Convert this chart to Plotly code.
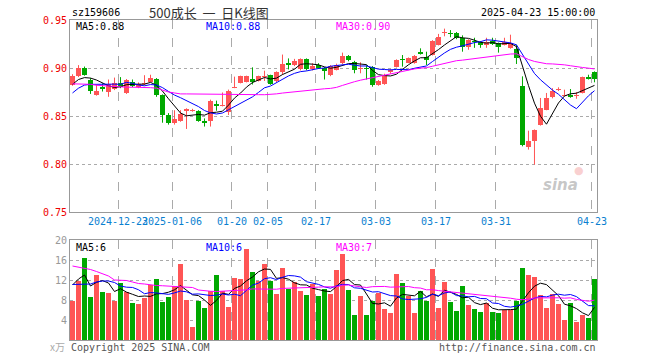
import plotly.graph_objects as go

# ---------------- data ----------------
dates = ["2024-12-11","2024-12-12","2024-12-13","2024-12-16","2024-12-17","2024-12-18","2024-12-19","2024-12-20",
         "2024-12-23","2024-12-24","2024-12-25","2024-12-26","2024-12-27","2024-12-30","2024-12-31",
         "2025-01-02","2025-01-03","2025-01-06","2025-01-07","2025-01-08","2025-01-09","2025-01-10","2025-01-13",
         "2025-01-14","2025-01-15","2025-01-16","2025-01-17","2025-01-20","2025-01-21","2025-01-22","2025-01-23",
         "2025-01-24","2025-01-27","2025-02-05","2025-02-06","2025-02-07","2025-02-10","2025-02-11","2025-02-12",
         "2025-02-13","2025-02-14","2025-02-17","2025-02-18","2025-02-19","2025-02-20","2025-02-21","2025-02-24",
         "2025-02-25","2025-02-26","2025-02-27","2025-02-28","2025-03-03","2025-03-04","2025-03-05","2025-03-06",
         "2025-03-07","2025-03-10","2025-03-11","2025-03-12","2025-03-13","2025-03-14","2025-03-17","2025-03-18",
         "2025-03-19","2025-03-20","2025-03-21","2025-03-24","2025-03-25","2025-03-26","2025-03-27","2025-03-28",
         "2025-03-31","2025-04-01","2025-04-02","2025-04-03","2025-04-07","2025-04-08","2025-04-09","2025-04-10",
         "2025-04-11","2025-04-14","2025-04-15","2025-04-16","2025-04-17","2025-04-18","2025-04-21","2025-04-22",
         "2025-04-23"]

opens = [0.8826,0.8917,0.9005,0.8880,0.8722,0.8805,0.8755,0.8780,0.8845,0.8740,
         0.8858,0.8800,0.8830,0.8858,0.8885,0.8720,0.8515,0.8430,0.8450,0.8550,
         0.8550,0.8555,0.8440,0.8445,0.8628,0.8605,0.8540,0.8792,0.8845,0.8855,
         0.8890,0.8868,0.8905,0.8924,0.8860,0.8955,0.9052,0.9030,0.8985,0.9090,
         0.8985,0.9035,0.9005,0.8925,0.8983,0.9050,0.9125,0.9066,0.8990,0.9000,
         0.9014,0.8823,0.8833,0.8960,0.9014,0.9090,0.9056,0.9049,0.9170,0.9118,
         0.9135,0.9240,0.9360,0.9365,0.9368,0.9309,0.9222,0.9280,0.9274,0.9240,
         0.9282,0.9257,0.9240,0.9205,0.9201,0.8809,0.8174,0.8243,0.8410,0.8566,
         0.8694,0.8767,0.8712,0.8722,0.8712,0.8740,0.8903,0.8955]
highs = [0.8935,0.9030,0.9015,0.8895,0.8830,0.8840,0.8880,0.8900,0.8905,0.8885,
         0.8880,0.8850,0.8925,0.8930,0.8895,0.8725,0.8530,0.8560,0.8560,0.8580,
         0.8575,0.8560,0.8475,0.8670,0.8660,0.8745,0.8775,0.8910,0.8920,0.8920,
         0.9007,0.8920,0.8972,0.8930,0.8965,0.9140,0.9100,0.9095,0.9100,0.9100,
         0.9050,0.9050,0.9010,0.9030,0.9045,0.9160,0.9135,0.9075,0.9060,0.9030,
         0.9020,0.8875,0.8940,0.8990,0.9090,0.9135,0.9110,0.9135,0.9205,0.9170,
         0.9290,0.9355,0.9410,0.9395,0.9375,0.9340,0.9300,0.9315,0.9280,0.9315,
         0.9315,0.9265,0.9315,0.9347,0.9243,0.8913,0.8347,0.8360,0.8688,0.8740,
         0.8790,0.8799,0.8774,0.8781,0.8750,0.8910,0.8930,0.8965]
lows = [0.8815,0.8905,0.8920,0.8730,0.8712,0.8755,0.8700,0.8770,0.8790,0.8730,
        0.8800,0.8790,0.8820,0.8850,0.8700,0.8430,0.8410,0.8410,0.8440,0.8365,
        0.8545,0.8440,0.8390,0.8390,0.8555,0.8600,0.8510,0.8790,0.8840,0.8850,
        0.8828,0.8860,0.8865,0.8825,0.8850,0.8930,0.8985,0.9020,0.8975,0.8975,
        0.8975,0.8990,0.8880,0.8915,0.8975,0.9040,0.9070,0.8945,0.8945,0.8880,
        0.8805,0.8815,0.8825,0.8940,0.9005,0.9014,0.9050,0.9045,0.9140,0.9030,
        0.9130,0.9235,0.9330,0.9320,0.9300,0.9170,0.9190,0.9210,0.9210,0.9210,
        0.9240,0.9160,0.9235,0.9200,0.9042,0.8184,0.8150,0.7993,0.8400,0.8560,
        0.8684,0.8760,0.8705,0.8690,0.8680,0.8735,0.8880,0.8851]
closes = [0.8917,0.9000,0.8930,0.8765,0.8762,0.8785,0.8830,0.8845,0.8800,0.8870,
          0.8815,0.8830,0.8842,0.8895,0.8720,0.8510,0.8430,0.8470,0.8525,0.8575,
          0.8562,0.8450,0.8432,0.8653,0.8600,0.8615,0.8765,0.8800,0.8912,0.8912,
          0.8855,0.8912,0.8915,0.8835,0.8955,0.9042,0.9035,0.9070,0.9090,0.8985,
          0.9020,0.9000,0.8965,0.9017,0.9035,0.9125,0.9085,0.8975,0.9000,0.8990,
          0.8823,0.8865,0.8927,0.8980,0.9083,0.9080,0.9100,0.9125,0.9146,0.9083,
          0.9285,0.9320,0.9365,0.9355,0.9309,0.9222,0.9292,0.9270,0.9240,0.9274,
          0.9250,0.9222,0.9274,0.9264,0.9104,0.8201,0.8243,0.8358,0.8583,0.8688,
          0.8764,0.8785,0.8722,0.8698,0.8718,0.8903,0.8885,0.8889]
volumes = [7.9,11.8,16.4,8.6,13.0,9.6,9.4,7.9,11.4,9.6,
           7.4,7.2,8.4,11.0,12.2,7.6,8.6,10.8,15.2,8.0,
           2.6,7.8,6.4,9.8,13.0,9.8,6.6,12.4,12.2,18.2,
           13.6,11.8,15.2,11.8,9.2,14.4,10.2,11.6,9.8,9.0,
           11.2,8.8,10.2,9.2,14.0,17.2,10.0,5.0,8.8,5.0,
           7.8,9.4,6.2,5.4,13.2,11.4,8.8,5.4,9.8,7.8,
           14.2,6.4,11.6,7.6,5.8,10.8,7.0,6.2,5.6,7.4,
           5.6,5.4,6.0,6.0,7.8,14.4,13.0,12.6,9.0,6.4,
           9.2,7.2,4.0,7.4,3.6,5.0,4.4,12.2]

# moving-average values before enough history is visible
price_ma5_head = [0.8830,0.8880,0.8900,0.8895]
price_ma10_head = [0.8740,0.8790,0.8822,0.8830,0.8830,0.8832,0.8832,0.8832,0.8830]
price_ma30_head = [0.8835,0.8835,0.8835,0.8830,0.8820,0.8815,0.8810,0.8810,0.8805,0.8800,
                   0.8800,0.8800,0.8800,0.8795,0.8790,0.8770,0.8750,0.8740,0.8730,0.8730,
                   0.8730,0.8730,0.8730,0.8730,0.8725,0.8725,0.8725,0.8725,0.8725]
vol_ma5_head = [11.0,12.2,13.0,10.8]
vol_ma10_head = [11.1,11.1,11.1,11.2,11.6,11.8,11.8,11.5,10.8]
vol_ma30_head = [14.8,14.6,14.4,14.1,13.7,13.3,12.8,12.0,11.95,11.9,
                 11.6,11.3,11.2,11.0,10.9,10.85,10.8,10.7,10.7,10.6,
                 10.5,10.0,9.8,9.75,9.7,9.75,9.8,9.9,9.95]

tick_dates = ["2024-12-23","2025-01-06","2025-01-20","2025-02-05","2025-02-17",
              "2025-03-03","2025-03-17","2025-03-31","2025-04-23"]
tick_text = ["2024-12-23","2025-01-06","01-20","02-05","02-17","03-03","03-17","03-31","04-23"]
price_ticks = [0.75,0.80,0.85,0.90,0.95]
vol_ticks = [0,4,8,12,16,20]

# ---------------- helpers ----------------
def moving(vals, n, head):
    out = list(head)
    for i in range(len(head), len(vals)):
        out.append(sum(vals[i - n + 1:i + 1]) / n)
    return out

n = len(closes)
xs = list(range(n))
RED = "#ff5555"
GREEN = "#00a800"
GRID = "#aaaaaa"
MONO = "DejaVu Sans Mono"

pma5 = moving(closes, 5, price_ma5_head)
pma10 = moving(closes, 10, price_ma10_head)
pma30 = moving(closes, 30, price_ma30_head)
vma5 = moving(volumes, 5, vol_ma5_head)
vma10 = moving(volumes, 10, vol_ma10_head)
vma30 = moving(volumes, 30, vol_ma30_head)

up = [c >= o for o, c in zip(opens, closes)]
colors = [RED if u else GREEN for u in up]

fig = go.Figure()

# wicks
for flag, col in ((True, RED), (False, GREEN)):
    wx, wy = [], []
    for i in xs:
        if up[i] == flag:
            wx += [i, i, None]
            wy += [lows[i], highs[i], None]
    fig.add_trace(go.Scatter(x=wx, y=wy, mode="lines", line=dict(color=col, width=1),
                             hoverinfo="skip", showlegend=False, xaxis="x", yaxis="y"))

# bodies
body_base = [min(o, c) for o, c in zip(opens, closes)]
body_h = [max(abs(c - o), 0.0012) for o, c in zip(opens, closes)]
fig.add_trace(go.Bar(x=xs, y=body_h, base=body_base, width=0.8, marker=dict(color=colors, line=dict(width=0)),
                     showlegend=False, xaxis="x", yaxis="y"))

# price MAs
for vals, col in ((pma5, "#000000"), (pma10, "#0000ff"), (pma30, "#ff00ff")):
    fig.add_trace(go.Scatter(x=xs, y=vals, mode="lines", line=dict(color=col, width=1),
                             showlegend=False, xaxis="x", yaxis="y"))

# volume
fig.add_trace(go.Bar(x=xs, y=volumes, width=0.8, marker=dict(color=colors, line=dict(width=0)),
                     showlegend=False, xaxis="x2", yaxis="y2"))
for vals, col in ((vma5, "#000000"), (vma10, "#0000ff"), (vma30, "#ff00ff")):
    fig.add_trace(go.Scatter(x=xs, y=vals, mode="lines", line=dict(color=col, width=1),
                             showlegend=False, xaxis="x2", yaxis="y2"))

tickpos = [dates.index(d) - 0.4167 for d in tick_dates]
xr = [-0.4167, n - 1 + 0.42]

L, R, T, B, W, H = 70, 63, 20, 20, 660, 360
def px(x):
    return (x - L) / (W - L - R)
def py(y):
    return (H - B - y) / (H - T - B)

axis_common = dict(range=xr, tickmode="array", tickvals=tickpos, showgrid=True, gridcolor=GRID,
                   griddash="dash", gridwidth=1, zeroline=False, showline=True, mirror=True,
                   linecolor="#999999", linewidth=1, ticks="", fixedrange=True)

fig.update_layout(
    width=W, height=H, margin=dict(l=L, r=R, t=T, b=B),
    paper_bgcolor="white", plot_bgcolor="white", bargap=0, showlegend=False,
    xaxis=dict(**axis_common, domain=[0, 1], anchor="y", ticktext=tick_text, tickangle=0,
               tickfont=dict(family=MONO, size=10, color="#0a7fd0")),
    yaxis=dict(domain=[0.4, 1.0], range=[0.75, 0.95], tickmode="array", tickvals=price_ticks,
               ticktext=["%.2f" % v for v in price_ticks], tickfont=dict(family=MONO, size=10, color="#ee0000"),
               showgrid=True, gridcolor=GRID, griddash="dot", zeroline=False, showline=True, mirror=True,
               linecolor="#999999", ticks="", fixedrange=True),
    xaxis2=dict(**axis_common, domain=[0, 1], anchor="y2", matches="x", showticklabels=False),
    yaxis2=dict(domain=[0, 0.3125], range=[0, 20], tickmode="array", tickvals=vol_ticks,
                ticktext=["" if v == 0 else str(v) for v in vol_ticks],
                tickfont=dict(family=MONO, size=10, color="#999999"),
                showgrid=True, gridcolor=GRID, griddash="dot", zeroline=False, showline=True, mirror=True,
                linecolor="#999999", ticks="", fixedrange=True),
)

def note(text, x, y, anchor="left", color="#000000", size=10, family=MONO):
    fig.add_annotation(text=text, x=px(x), y=py(y), xref="paper", yref="paper", xanchor=anchor,
                       yanchor="middle", showarrow=False, font=dict(family=family, size=size, color=color))

note("sz159606", 70, 13)
note("500成长&nbsp;&nbsp;一&nbsp;&nbsp;日K线图", 209, 12, anchor="center", color="#333333", size=13,
     family="Noto Sans CJK SC")
note(dates[-1] + " 15:00:00", 597, 13, anchor="right")
note("MA5:%.2f" % pma5[-1], 74, 27)
note("MA10:%.2f" % pma10[-1], 204, 27, color="#0000ff")
note("MA30:%.2f" % pma30[-1], 334, 27, color="#ff00ff")
note("MA5:%d" % int(vma5[-1]), 74, 247)
note("MA10:%d" % int(vma10[-1]), 204, 247, color="#0000ff")
note("MA30:%d" % int(vma30[-1]), 334, 247, color="#ff00ff")
note("x万", 67, 346, anchor="right", color="#aaaaaa", size=10, family="Noto Sans CJK SC")
note("Copyright 2025 SINA.COM", 69, 347, color="#555555")
note("http://finance.sina.com.cn", 598, 347, anchor="right", color="#555555")
fig.add_annotation(text="<b><i>sina</i></b>", x=px(580), y=py(185), xref="paper", yref="paper",
                   showarrow=False, font=dict(family="DejaVu Sans", size=15, color="rgba(150,150,150,0.55)"))
fig.add_annotation(text="●", x=px(586), y=py(170), xref="paper", yref="paper",
                   showarrow=False, font=dict(family="DejaVu Sans", size=11, color="rgba(240,120,120,0.35)"))

fig.write_html("out.html", config={"displayModeBar": False, "staticPlot": True},
               post_script="document.body.style.margin='0';document.body.style.overflow='hidden';")
